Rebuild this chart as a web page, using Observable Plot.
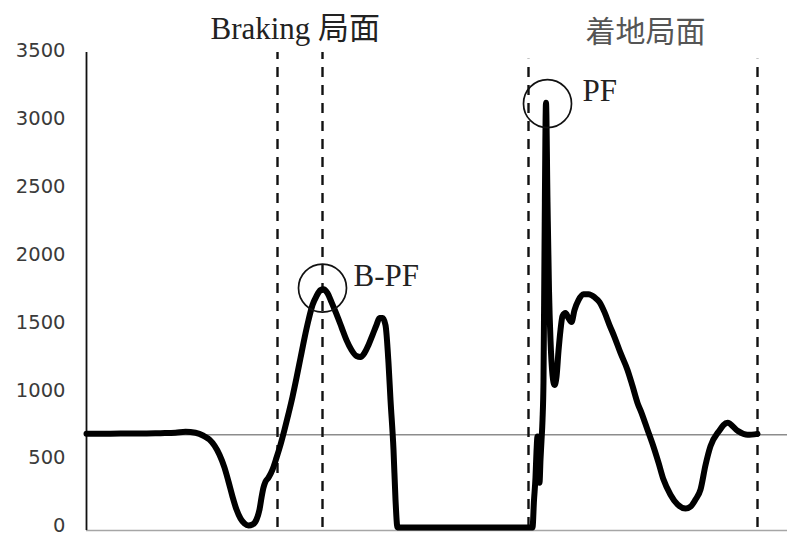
<!DOCTYPE html>
<html>
<head>
<meta charset="utf-8">
<script src="https://cdn.jsdelivr.net/npm/d3@7"></script>
<script src="https://cdn.jsdelivr.net/npm/@observablehq/plot@0.6"></script>
<style>
  html, body { margin: 0; padding: 0; background: #fff; }
</style>
</head>
<body>
<div id="chart"></div>
<script>
// time (arbitrary units) and vertical ground reaction force (N)
const times = [0,14,34,54,74,89,99,109,117,123,128,133,138,142,146,150,154,158,162,166,170,173,175,177,179,182,186,190,194,198,202,206,210,214,218,222,226,230,234,237,241,245,250,255,260,265,270,274,278,282,286,290,293,296,299,302,304,307,309,311,360,446,
  447.5,449,450,451,452,453,454,455,456,457,458,459.5,461,462.5,464,466,468,470,472,474,476,479,482,485,488,492,497,502,508,513,518,523,528,534,541,546,551,555,561,567,572,577,584,591,599,604,609,614,619,624,632,641,651,661,671];
const forces = [690,690,692,692,695,698,705,698,676,647,603,536,441,338,228,132,66,29,15,22,59,132,220,294,338,367,426,514,610,720,838,963,1102,1249,1396,1528,1639,1705,1749,1756,1727,1661,1572,1477,1381,1308,1264,1257,1286,1345,1418,1492,1543,1543,1492,1212,941,573,206,0,0,0,
  200,370,560,670,430,330,500,640,790,1080,2043,3130,2400,1749,1380,1124,1050,1110,1300,1455,1558,1580,1543,1514,1602,1675,1719,1719,1697,1661,1587,1492,1403,1286,1161,1043,918,845,720,595,478,353,242,170,140,154,206,279,460,600,705,772,713,683,690];

const yTicks = [0, 500, 1000, 1500, 2000, 2500, 3000, 3500];
const bodyWeight = 683;

// phase boundary times and their top values
const phaseTimes = [191, 236, 442, 671];
const phaseTops = [3500, 3500, 3450, 3450];

// peak markers
const peakTimes = [236, 461];
const peakForces = [1764, 3123];

// annotation texts
const labelTexts = ["Braking 局面", "B-PF", "PF"];
const labelTimes = [124, 267, 496];
const labelForces = [3674, 1852, 3218];
const phaseTitle = ["着地局面"];
const phaseTitleTime = [499];
const phaseTitleForce = [3645];

const data = times.map((t, i) => ({t, f: forces[i]}));
const phases = phaseTimes.map((t, i) => ({t, top: phaseTops[i]}));
const peaks = peakTimes.map((t, i) => ({t, f: peakForces[i]}));
const labels = labelTexts.map((s, i) => ({s, t: labelTimes[i], f: labelForces[i]}));
const titles = phaseTitle.map((s, i) => ({s, t: phaseTitleTime[i], f: phaseTitleForce[i]}));

const chart = Plot.plot({
  width: 787,
  height: 537,
  marginLeft: 86,
  marginRight: 0,
  marginTop: 52,
  marginBottom: 10,
  x: {domain: [0, 701], axis: null},
  y: {domain: [0, 3500], axis: null},
  style: {fontFamily: "DejaVu Sans", background: "#fff", overflow: "visible"},
  marks: [
    Plot.axisY({ticks: yTicks, tickSize: 0, tickPadding: 21, fontSize: 19.5, dy: -1.5, fill: "#3a3a3a", fontFamily: "DejaVu Sans", tickFormat: d => String(d)}),
    Plot.ruleY([bodyWeight], {stroke: "#8c8c8c", strokeWidth: 1.6}),
    Plot.ruleY([0], {stroke: "#a6a6a6", strokeWidth: 1.6, dy: 3}),
    Plot.ruleX([0], {y1: -22, y2: 3500, stroke: "#111", strokeWidth: 1.8}),
    Plot.ruleX(phases, {x: "t", y1: 0, y2: "top", stroke: "#111", strokeWidth: 2.4, strokeDasharray: "10,8"}),
    Plot.line(data, {x: "t", y: "f", stroke: "#000", strokeWidth: 6, curve: "monotone-x", strokeLinejoin: "round", strokeLinecap: "round"}),
    Plot.dot(peaks, {x: "t", y: "f", r: 24, fill: "none", stroke: "#111", strokeWidth: 1.7}),
    Plot.text(labels, {x: "t", y: "f", text: "s", textAnchor: "start", fontSize: 31, fontFamily: "Liberation Serif, Noto Sans CJK JP", fill: "#222"}),
    Plot.text(titles, {x: "t", y: "f", text: "s", textAnchor: "start", fontSize: 30, fontFamily: "Noto Sans CJK JP", fill: "#555"})
  ]
});
document.getElementById("chart").appendChild(chart);
</script>
</body>
</html>
